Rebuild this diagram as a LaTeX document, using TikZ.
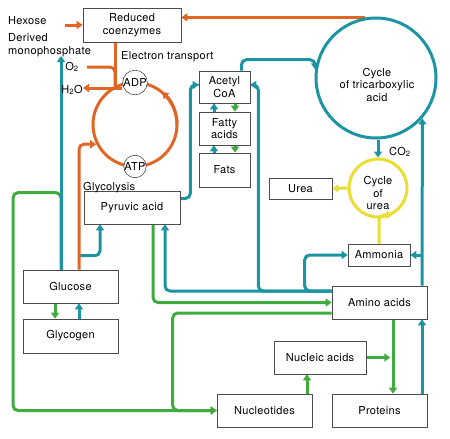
\documentclass[tikz,border=0pt]{standalone}
\usepackage{fontspec}
\setmainfont{TeX Gyre Heros}[LetterSpace=3]
\usetikzlibrary{arrows.meta,backgrounds}

\definecolor{eorange}{RGB}{224,102,38}
\definecolor{eteal}{RGB}{28,148,162}
\definecolor{egreen}{RGB}{64,172,64}
\definecolor{eyellow}{RGB}{232,222,52}

\tikzset{
	box/.style = {draw = black!70, line width = .6pt, fill = white, inner sep = 0pt, align = center},
	flow/.style = {line width = 3pt, rounded corners = 5pt},
	orflow/.style = {flow, eorange},
	tlflow/.style = {flow, eteal},
	gnflow/.style = {flow, egreen},
	ylflow/.style = {flow, eyellow},
	cycle/.style = {circle, line width = 3pt, inner sep = 0pt},
	word/.style = {inner sep = 0pt, align = left}
}

\begin{document}
\begin{tikzpicture}[x = 1pt, y = -1pt, font = \fontsize{11}{12.5}\selectfont,
		>={Triangle[width = 8pt, length = 6pt]}]
		\useasboundingbox (0,0) rectangle (450,439);
		
		\node [box, minimum width = 98pt, minimum height = 34pt] (coenz) at (132, 25) {Reduced\\coenzymes};
		\node [box, minimum width = 51pt, minimum height = 32pt] (acetyl) at (224.5, 87) {Acetyl\\CoA};
		\node [box, minimum width = 51pt, minimum height = 33pt] (fatty) at (224.5, 128.5) {Fatty\\acids};
		\node [box, minimum width = 51pt, minimum height = 34pt] (fats) at (224.5, 170) {Fats};
		\node [box, minimum width = 96pt, minimum height = 33pt] (pyr) at (132, 207.5) {Pyruvic acid};
		\node [box, minimum width = 63pt, minimum height = 21pt] (urea) at (300.5, 188.5) {Urea};
		\node [box, minimum width = 62pt, minimum height = 22pt] (ammonia) at (379, 255) {Ammonia};
		\node [box, minimum width = 95pt, minimum height = 33pt] (amino) at (379.5, 302.5) {Amino acids};
		\node [box, minimum width = 95pt, minimum height = 33pt] (glucose) at (70.5, 286.5) {Glucose};
		\node [box, minimum width = 95pt, minimum height = 34pt] (glycogen) at (70.5, 336) {Glycogen};
		\node [box, minimum width = 92pt, minimum height = 33pt] (nucleic) at (320, 357.5) {Nucleic acids};
		\node [box, minimum width = 95pt, minimum height = 33pt] (nucleotides) at (264.5, 410.5) {Nucleotides};
		\node [box, minimum width = 95pt, minimum height = 33pt] (proteins) at (379.5, 410.5) {Proteins};
		
		\node [cycle, draw = eteal, minimum size = 120pt] (tca) at (376, 78) {};
		\node [align = center] (tcatext) at (377, 84.5) {Cycle\\of tricarboxylic\\acid};
		\node [cycle, draw = eyellow, minimum size = 58pt] (ucyc) at (378, 188) {};
		\node [align = center] (ucyctext) at (378, 193) {Cycle\\of\\urea};
		\node [cycle, draw = eorange, minimum size = 84pt] (cyc) at (135, 124.5) {};
		\node [circle, draw = black!70, line width = .6pt, fill = white, inner sep = 0pt, minimum size = 22pt] (adp) at (135, 82.5) {ADP};
		\node [circle, draw = black!70, line width = .6pt, fill = white, inner sep = 0pt, minimum size = 22pt] (atp) at (135, 166.5) {ATP};
		
		\node [word, anchor = west] (hexose) at (8, 21) {Hexose};
		\node [word, anchor = west] (derived) at (8, 45) {Derived\\monophosphate};
		\node [word] (o2) at (72, 67) {O\textsubscript{2}};
		\node [word] (h2o) at (72, 90) {H\textsubscript{2}O};
		\node [word, anchor = west] (etrans) at (121, 57) {Electron transport};
		\node [word, anchor = base west] (glycolysis) at (83, 190.5) {Glycolysis};
		\node [word, anchor = west] (co2) at (389, 152) {CO\textsubscript{2}};
		\coordinate (mono) at (61, 56);
		\coordinate (et) at (115, 88);
		
		\begin{scope}[on background layer]
		\draw [->, gnflow] ([xshift = -9.5pt]glucose.north) -- ++(0,-77) -- ++(-48,0) |- (nucleotides.west);
		\draw [->, gnflow] ([yshift = -10.5pt]amino.west) -- ++(-159,0) |- (nucleotides.west);
		\draw [->, gnflow] ([xshift = 21pt]pyr.south) |- (amino.west);
		\draw [->, gnflow] ([xshift = -15.5pt]glucose.south) -- ([xshift = -15.5pt]glycogen.north);
		\draw [->, gnflow] ([xshift = 10.5pt]acetyl.south) -- ([xshift = 10.5pt]fatty.north);
		\draw [->, gnflow] ([xshift = 10.5pt]fatty.south) -- ([xshift = 10.5pt]fats.north);
		\draw [->, gnflow] ([xshift = 42.5pt]nucleotides.north) -- ([xshift = -13pt]nucleic.south);
		\draw [->, gnflow] ([xshift = 13.5pt]amino.south) -- ([xshift = 13.5pt]proteins.north);
		\draw [->, gnflow] (nucleic.east) -- ++(24,0);
		
		\draw [->, tlflow] ([xshift = -9.5pt]glucose.north) -- (mono);
		\draw [->, tlflow] ([xshift = 8.5pt]glucose.north) ++(0,-14) -| ([xshift = -32pt]pyr.south);
		\draw [->, tlflow] ([yshift = 9pt]pyr.east) -- ++(10,0) |- ([yshift = 2pt]acetyl.west);
		\draw [->, tlflow] ([xshift = 17pt]acetyl.north) -- ++(0,-11) -| (tca.172);
		\draw [->, tlflow] ([yshift = 11.5pt]amino.west) -| ([xshift = 33pt]pyr.south);
		\draw [<-, tlflow] ([yshift = 2pt]acetyl.east) -- ++(8,0) |- ([yshift = 11.5pt]amino.west);
		\draw [<-, tlflow] (ammonia.west) -- ++(-43,0) |- ([yshift = 11.5pt]amino.west);
		\draw [->, tlflow] ([xshift = 42.5pt]amino.north) -- (tca.-41);
		\draw [<-, tlflow] (ammonia.east) -- (ammonia.east -| tca.-41);
		\draw [->, tlflow] ([xshift = 42.5pt]proteins.north) -- ([xshift = 42.5pt]amino.south);
		\draw [->, tlflow] ([xshift = 8.5pt]glycogen.north) -- ([xshift = 8.5pt]glucose.south);
		\draw [->, tlflow] ([xshift = -10.5pt]fatty.north) -- ([xshift = -10.5pt]acetyl.south);
		\draw [->, tlflow] ([xshift = -10.5pt]fats.north) -- ([xshift = -10.5pt]fatty.south);
		\draw [->, tlflow] (ucyc.north |- tca.south) -- (ucyc.north);
		
		\draw [->, orflow] (tca.100) -- (tca.100 -| coenz.east);
		\draw [->, orflow] (coenz.west) ++(-18,0) -- (coenz.west);
		\draw [orflow] (coenz.south -| et) -- (et);
		\draw [orflow] ([xshift = 8pt]o2.east) -| (et);
		\draw [->, orflow] (adp.west |- et) -- (h2o.east |- et);
		\draw [->, orflow] ([xshift = 8.5pt]glucose.north) |- (cyc.207);
		\draw [->, orflow] (cyc.center) ++(42pt,0pt) arc [start angle = 0, end angle = 50, radius = 42pt];
		
		\draw [->, ylflow] (ammonia.north) |- (ucyc.-62);
		\draw [->, ylflow] (ucyc.west) -- (urea.east);
		\end{scope}
		
\end{tikzpicture}
\end{document}
